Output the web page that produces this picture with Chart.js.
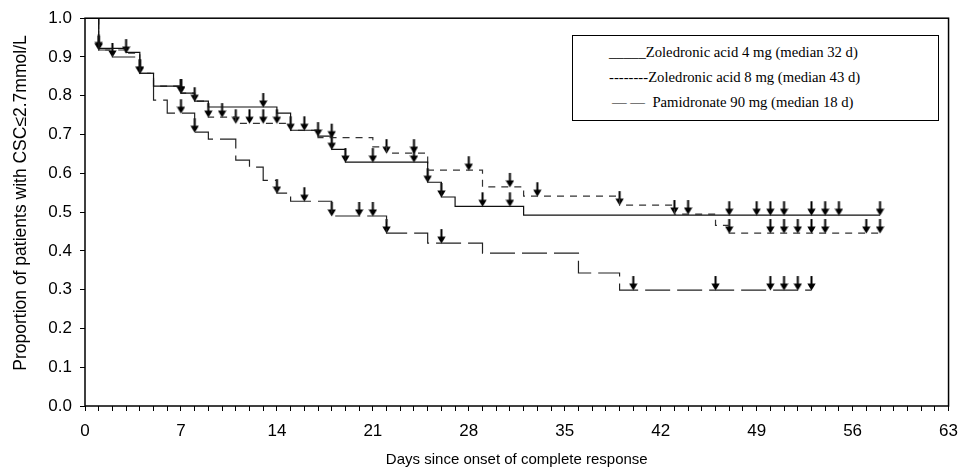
<!DOCTYPE html>
<html>
<head>
<meta charset="utf-8">
<script src="https://cdn.jsdelivr.net/npm/chart.js@4.4.0/dist/chart.umd.min.js"></script>
<style>
  body { margin: 0; background: #fff; }
  #wrap { position: relative; width: 968px; height: 475px; }
  #chart { position: absolute; left: 0; top: 0; }
  .legend-box {
    position: absolute; left: 572px; top: 35px; width: 365px; height: 84px;
    border: 1.5px solid #000; background: #fff;
    font-family: "Liberation Serif", "Times New Roman", serif; font-size: 14.7px; color: #000;
  }
  .legend-box div { position: absolute; white-space: nowrap; }
</style>
</head>
<body>
<div id="wrap">
  <canvas id="chart" width="968" height="475"></canvas>
  <div class="legend-box">
    <div style="left:36px; top:8px;">_____Zoledronic acid 4 mg (median 32 d)</div>
    <div style="left:36px; top:33px;">--------Zoledronic acid 8 mg (median 43 d)</div>
    <div style="left:39px; top:58px;">— —&nbsp;&nbsp;Pamidronate 90 mg (median 18 d)</div>
  </div>
</div>
<script>
// ----- データ -----
const xTicks = [0, 7, 14, 21, 28, 35, 42, 49, 56, 63];
const yTicks = [0, 0.1, 0.2, 0.3, 0.4, 0.5, 0.6, 0.7, 0.8, 0.9, 1.0];

// ゾレドロン酸 4 mg（実線）
const zol4Days = [0, 1, 3, 4, 5, 7, 8, 9, 14, 15, 17, 18, 19, 25, 26, 27, 32, 58];
const zol4Surv = [1.0, 0.922, 0.912, 0.858, 0.825, 0.807, 0.786, 0.771, 0.755, 0.711, 0.696, 0.662, 0.629, 0.577, 0.539, 0.515, 0.492, 0.492];
const zol4Censor = [1, 4, 7, 13, 15, 16, 17, 18, 19, 21, 24, 25, 26, 29, 31, 47, 49, 50, 51, 53, 54, 55, 58];

// ゾレドロン酸 8 mg（点線）
const zol8Days = [0, 1, 3, 4, 5, 7, 8, 9, 11, 15, 17, 21, 22, 25, 29, 32, 39, 43, 46, 47, 58];
const zol8Surv = [1.0, 0.918, 0.91, 0.858, 0.825, 0.807, 0.786, 0.745, 0.729, 0.711, 0.692, 0.668, 0.652, 0.608, 0.565, 0.541, 0.518, 0.495, 0.466, 0.446, 0.446];
const zol8Censor = [1, 3, 4, 7, 8, 9, 10, 11, 12, 13, 14, 18, 22, 24, 28, 31, 33, 39, 43, 44, 47, 50, 51, 52, 53, 54, 57, 58];

// パミドロネート 90 mg（長い破線）
const pamDays = [0, 1, 2, 4, 5, 6, 8, 9, 11, 12, 13, 14, 15, 18, 22, 25, 29, 36, 39, 53];
const pamSurv = [1.0, 0.918, 0.90, 0.858, 0.789, 0.755, 0.706, 0.688, 0.634, 0.616, 0.582, 0.549, 0.528, 0.490, 0.446, 0.420, 0.394, 0.343, 0.299, 0.299];
const pamCensor = [2, 7, 8, 14, 16, 18, 20, 21, 22, 26, 40, 46, 50, 51, 52, 53];

// 階段データを {x, y} に変換
function toSteps(days, vals) {
    return days.map((d, i) => ({ x: d, y: vals[i] }));
}

// 打ち切り時点の生存率（その日までの最後の値）
function censorPoints(days, vals, censor) {
    return censor.map(t => {
        let v = vals[0];
        days.forEach((d, i) => { if (d <= t) v = vals[i]; });
        return { x: t, y: v };
    });
}

// 下向き矢印（先端がキャンバス中央に来るように描く）
function makeArrow() {
    const c = document.createElement('canvas');
    c.width = 9;
    c.height = 30;
    const g = c.getContext('2d');
    g.fillStyle = '#000';
    g.fillRect(3.5, 1, 2, 9);
    g.beginPath();
    g.moveTo(0.3, 8.5);
    g.lineTo(8.7, 8.5);
    g.lineTo(4.5, 15.5);
    g.closePath();
    g.fill();
    return c;
}
const arrow = makeArrow();

// 枠線（上・右も含む）とY軸タイトル
const framePlugin = {
    id: 'frame',
    afterDraw(chart) {
        const { ctx, chartArea: a } = chart;
        ctx.save();
        ctx.strokeStyle = '#000';
        ctx.lineWidth = 1.5;
        ctx.strokeRect(a.left, a.top, a.right - a.left, a.bottom - a.top);
        ctx.translate(21, 203);
        ctx.rotate(-Math.PI / 2);
        ctx.font = '17.5px "Liberation Sans", Arial, sans-serif';
        ctx.fillStyle = '#000';
        ctx.textAlign = 'center';
        ctx.textBaseline = 'middle';
        ctx.fillText('Proportion of patients with CSC\u22642.7mmol/L', 0, 0);
        ctx.restore();
    }
};

const lineBase = { stepped: 'before', pointRadius: 0, borderWidth: 1.2, fill: false };
const censorBase = { showLine: false, pointStyle: arrow, pointRadius: 5 };

new Chart(document.getElementById('chart'), {
    type: 'line',
    data: {
        datasets: [
            Object.assign({ label: 'Zoledronic acid 4 mg', data: toSteps(zol4Days, zol4Surv), borderColor: '#111' }, lineBase),
            Object.assign({ label: 'Zoledronic acid 8 mg', data: toSteps(zol8Days, zol8Surv), borderColor: '#333', borderDash: [7, 6] }, lineBase),
            Object.assign({ label: 'Pamidronate 90 mg', data: toSteps(pamDays, pamSurv), borderColor: '#222', borderDash: [25, 7] }, lineBase),
            Object.assign({ label: 'c4', data: censorPoints(zol4Days, zol4Surv, zol4Censor) }, censorBase),
            Object.assign({ label: 'c8', data: censorPoints(zol8Days, zol8Surv, zol8Censor) }, censorBase),
            Object.assign({ label: 'cp', data: censorPoints(pamDays, pamSurv, pamCensor) }, censorBase)
        ]
    },
    options: {
        responsive: false,
        animation: false,
        layout: { padding: { top: 18, right: 10, left: 0, bottom: 0 } },
        plugins: { legend: { display: false }, tooltip: { enabled: false } },
        scales: {
            x: {
                type: 'linear',
                min: 0,
                max: 63,
                afterFit: s => { s.height = 69; },
                border: { display: false },
                grid: { drawOnChartArea: false, drawTicks: true, tickLength: 5, color: '#000' },
                ticks: {
                    stepSize: 1,
                    autoSkip: false,
                    maxRotation: 0,
                    padding: 10,
                    color: '#000',
                    font: { family: '"Liberation Sans", Arial, sans-serif', size: 17 },
                    callback: v => xTicks.includes(v) ? String(v) : ''
                },
                title: {
                    display: true,
                    text: 'Days since onset of complete response',
                    color: '#000',
                    font: { family: '"Liberation Sans", Arial, sans-serif', size: 15 },
                    padding: { top: 0, bottom: 6 }
                }
            },
            y: {
                min: 0,
                max: 1,
                afterFit: s => { s.width = 85; },
                afterBuildTicks: s => { s.ticks = yTicks.map(v => ({ value: v })); },
                border: { display: false },
                grid: { drawOnChartArea: false, drawTicks: true, tickLength: 5, color: '#000' },
                ticks: {
                    padding: 8,
                    color: '#000',
                    font: { family: '"Liberation Sans", Arial, sans-serif', size: 17 },
                    callback: v => v.toFixed(1)
                }
            }
        }
    },
    plugins: [framePlugin]
});
</script>
</body>
</html>
